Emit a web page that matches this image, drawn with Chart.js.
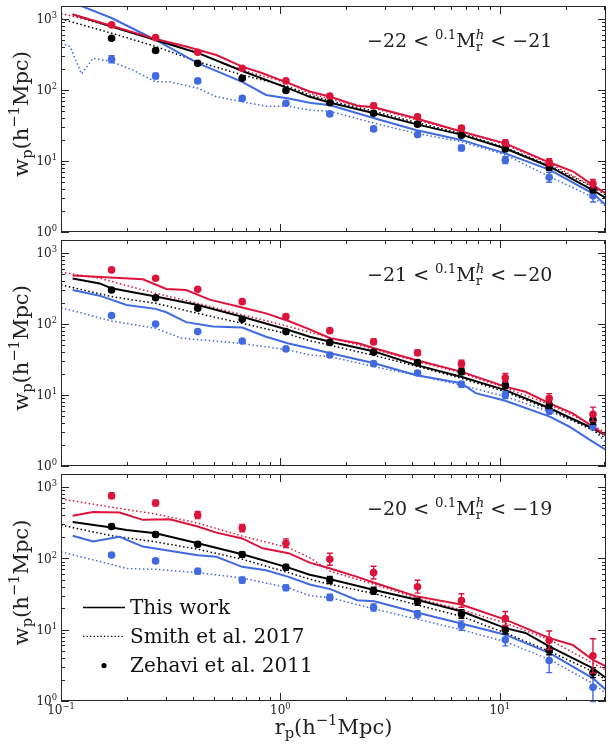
<!DOCTYPE html>
<html><head>
<meta charset="UTF-8">
<title>Projected correlation function w_p(r_p) by luminosity and colour</title>
<style>
  body { margin: 0; background: #fff; }
  #wrap { position: relative; width: 610px; height: 745px; }
  #wrap canvas { position: absolute; left: 0; top: 0; }
</style>
<script src="https://cdn.jsdelivr.net/npm/chart.js"></script>
</head>
<body>
<div id="wrap">
  <canvas id="p1" width="610" height="745"></canvas>
  <canvas id="p2" width="610" height="745"></canvas>
  <canvas id="p3" width="610" height="745"></canvas>
</div>
<script>
// r_p bins of the Zehavi et al. 2011 measurements (h^-1 Mpc)
const rBins = [0.17, 0.27, 0.42, 0.67, 1.06, 1.68, 2.66, 4.22, 6.69, 10.6, 16.8, 26.6];

// ---- -22 < M < -21 ----
const z22Red   = [823, 545, 340, 202, 134, 82, 60, 42, 29, 18, 9.6, 4.8];
const z22All   = [535, 360, 238, 146, 98, 66, 47, 33, 23, 14.8, 8.1, 4.0];
const z22Blue  = [270, 157, 134, 76, 65, 46, 28.3, 23.5, 15.2, 10.3, 5.9, 3.25];
// errors in dex
const e22Red   = [0.02, 0.02, 0.02, 0.02, 0.03, 0.03, 0.03, 0.03, 0.03, 0.04, 0.05, 0.06];
const e22All   = [0.02, 0.02, 0.02, 0.02, 0.02, 0.02, 0.03, 0.03, 0.03, 0.03, 0.04, 0.05];
const e22Blue  = [0.05, 0.04, 0.03, 0.03, 0.03, 0.03, 0.03, 0.03, 0.04, 0.05, 0.07, 0.09];
// this work (solid) and Smith et al. 2017 (dotted): [r_p, w_p]
const tw22Red  = [[0.113,1160],[0.17,800],[0.27,520],[0.372,410],[0.511,310],[0.67,213],[0.83,172],[1.09,125],[1.36,95],[1.69,80],[2.24,60],[2.68,57],[4.14,40],[6.67,26],[10.6,17.7],[16.9,9.5],[21.6,7.1],[26.5,4.6],[30.5,3.5]];
const tw22All  = [[0.113,1160],[0.17,780],[0.27,505],[0.42,332],[0.67,185],[1.09,105],[1.36,80],[1.69,66],[2.68,47],[4.14,33],[6.67,23.5],[10.6,15],[16.9,8.3],[26.5,3.9],[30.5,3.0]];
const tw22Blue = [[0.113,1700],[0.17,1030],[0.27,505],[0.42,238],[0.67,130],[0.86,85],[1.09,76],[1.36,66],[1.69,61],[2.68,40],[4.14,27.3],[6.67,19.8],[10.6,12.8],[16.9,7.5],[26.5,3.5],[30.5,2.4]];
const sm22Red  = [[0.1,1200],[0.17,780],[0.27,520],[0.42,330],[0.67,190],[1.09,124],[1.36,90],[1.69,74],[2.68,55],[4.14,38],[6.67,26],[10.6,17],[16.9,9.2],[26.5,4.4],[30.5,3.5]];
const sm22All  = [[0.1,1000],[0.17,630],[0.27,410],[0.42,250],[0.67,163],[1.09,111],[1.36,85],[1.69,70],[2.68,50],[4.14,35],[6.67,24.5],[10.6,15.5],[16.9,8.6],[26.5,4.35],[30.5,3.3]];
const sm22Blue = [[0.1,455],[0.11,410],[0.124,168],[0.14,280],[0.17,250],[0.213,190],[0.27,130],[0.313,130],[0.42,106],[0.511,80],[0.67,68],[0.86,59],[1.09,59],[1.36,52],[1.69,50],[2.68,34],[4.14,24.5],[6.67,18.7],[10.6,12.2],[16.9,6.0],[26.5,3.1],[30.5,2.3]];

// ---- -21 < M < -20 ----
const z21Red   = [577, 440, 308, 206, 127, 80.5, 56, 39.4, 27.6, 17.5, 9.0, 5.35];
const z21All   = [301, 234, 166, 116, 78, 55, 40, 28.5, 21.3, 13.8, 7.2, 4.45];
const z21Blue  = [131, 100, 78, 57.6, 44.5, 36.6, 27.6, 20.4, 14.1, 10, 6.0, 3.7];
const e21Red   = [0.02, 0.02, 0.02, 0.03, 0.03, 0.03, 0.04, 0.04, 0.05, 0.06, 0.065, 0.1];
const e21All   = [0.02, 0.02, 0.02, 0.02, 0.02, 0.03, 0.03, 0.03, 0.04, 0.05, 0.05, 0.06];
const e21Blue  = [0.02, 0.02, 0.02, 0.02, 0.02, 0.03, 0.03, 0.03, 0.04, 0.05, 0.05, 0.06];
const tw21Red  = [[0.113,480],[0.236,425],[0.302,310],[0.372,300],[0.476,220],[0.67,170],[0.86,141],[1.09,110],[1.36,84],[1.69,63],[2.29,53],[2.68,45.5],[4.14,31],[6.67,21.3],[10.6,13.1],[13.1,11.1],[16.9,7.6],[21.5,5.5],[26.5,3.6],[30.5,2.7]];
const tw21All  = [[0.113,437],[0.15,372],[0.17,317],[0.27,243],[0.42,185],[0.67,126],[1.09,82],[1.36,66],[1.69,56],[2.68,41],[4.14,26.5],[6.67,18.1],[10.6,11.7],[16.9,6.5],[26.5,3.4],[30.5,2.7]];
const tw21Blue = [[0.113,300],[0.15,250],[0.199,185],[0.27,163],[0.302,146],[0.372,106],[0.493,92],[0.67,89],[0.86,66],[1.09,53],[1.36,45.5],[1.69,38.6],[2.68,28],[4.14,19.1],[6.67,14.6],[7.77,10.6],[10.6,8.3],[16.9,4.95],[20.7,3.6],[26.5,2.2],[30.5,1.68]];
const sm21Red  = [[0.1,535],[0.15,440],[0.27,270],[0.42,195],[0.67,135],[1.09,92],[1.69,64],[2.68,44],[4.14,30],[6.67,20.5],[10.6,12.6],[16.9,7.3],[26.5,3.8],[30.5,2.9]];
const sm21All  = [[0.1,355],[0.17,243],[0.199,225],[0.27,195],[0.42,141],[0.67,102],[1.09,72],[1.36,58],[1.69,50],[2.68,36],[4.14,25.5],[6.67,17.2],[10.6,11.1],[16.9,6.2],[26.5,3.2],[30.5,2.45]];
const sm21Blue = [[0.1,170],[0.17,110],[0.27,87],[0.354,63],[0.67,53],[1.09,43],[1.36,36.6],[1.69,34.6],[2.68,25],[4.14,19],[6.67,13.8],[10.6,9.5],[16.9,5.8],[26.5,3.4],[30.5,2.1]];

// ---- -20 < M < -19 ----
const z20Red   = [755, 595, 404, 265, 163, 97, 63, 40, 25.6, 14.3, 7.1, 4.3];
const z20All   = [279, 216, 157, 113, 75, 49.5, 35, 24.6, 16.6, 10, 5.1, 2.5];
const z20Blue  = [111, 92, 66, 49.5, 38.7, 28.3, 20.4, 16.4, 11.4, 7.2, 3.7, 1.56];
const e20Red   = [0.04, 0.04, 0.05, 0.05, 0.06, 0.085, 0.09, 0.09, 0.095, 0.1, 0.13, 0.24];
const e20All   = [0.03, 0.03, 0.03, 0.04, 0.04, 0.05, 0.05, 0.05, 0.06, 0.06, 0.06, 0.07];
const e20Blue  = [0.03, 0.03, 0.04, 0.04, 0.04, 0.045, 0.05, 0.05, 0.065, 0.085, 0.17, 0.2];
const tw20Red  = [[0.113,394],[0.14,446],[0.185,438],[0.236,346],[0.313,352],[0.42,279],[0.511,229],[0.67,190],[0.83,138],[1.09,118],[1.36,87],[1.69,72],[2.24,55],[2.68,45.4],[4.14,29.5],[6.67,22.5],[10.6,13.8],[16.9,7.6],[21.5,6.1],[26.5,3.8],[30.5,3.05]];
const tw20All  = [[0.113,324],[0.17,270],[0.199,250],[0.27,225],[0.42,163],[0.67,114],[1.09,74],[1.36,59],[1.69,51],[2.68,36],[4.14,26.4],[6.67,18.1],[10.6,10.5],[13.1,9.0],[16.9,5.8],[26.5,2.9],[30.5,2.1]];
const tw20Blue = [[0.113,207],[0.14,172],[0.185,200],[0.236,146],[0.42,110],[0.511,105],[0.67,76],[0.86,68],[1.09,55],[1.36,43],[1.69,37],[2.24,25.8],[2.68,25],[4.14,17.5],[6.67,12.2],[10.6,8.5],[16.9,4.7],[26.5,2.1],[30.5,1.43]];
const sm20Red  = [[0.1,680],[0.14,575],[0.17,520],[0.27,417],[0.42,312],[0.67,205],[1.09,141],[1.36,102],[1.69,66],[2.68,43],[4.14,28],[6.67,19],[10.6,12.4],[16.9,7.2],[26.5,3.4],[30.5,2.7]];
const sm20All  = [[0.1,292],[0.17,207],[0.27,170],[0.42,134],[0.67,97],[1.09,63],[1.36,51],[1.69,43],[2.68,32],[4.14,22.5],[6.67,15.4],[10.6,9.0],[16.9,4.95],[26.5,2.6],[30.5,1.98]];
const sm20Blue = [[0.1,123],[0.17,82],[0.199,72],[0.27,70],[0.42,63],[0.67,53],[1.09,38.6],[1.36,30],[1.69,28],[2.68,19.5],[4.14,14.2],[6.67,10],[10.6,6.8],[16.9,3.8],[26.5,1.77],[30.5,1.28]];

const RED = '#dc143c', BLUE = '#4169e1', BLACK = '#000000';
const SERIF = '"DejaVu Serif", serif';
const INK = '#262626';

// text with super/subscripts; parts: {t, sup, sub, it, stack}
function drawRich(ctx, parts, size, x, y, align) {
  const items = [];
  let w = 0, held = 0;
  for (const p of parts) {
    const s = (p.sup || p.sub) ? size * 0.7 : size;
    const font = (p.it ? 'italic ' : '') + s + 'px ' + SERIF;
    ctx.font = font;
    const pw = ctx.measureText(p.t).width;
    const dy = p.sup ? -0.42 * size : p.sub ? 0.2 * size : 0;
    items.push({ t: p.t, font, x: w, dy });
    if (p.stack) { held = pw; } else { w += Math.max(pw, held); held = 0; }
  }
  const x0 = align === 'center' ? x - w / 2 : align === 'right' ? x - w : x;
  ctx.textAlign = 'left';
  ctx.textBaseline = 'alphabetic';
  for (const it of items) {
    ctx.font = it.font;
    ctx.fillText(it.t, x0 + it.x, y + it.dy);
  }
}

function powLabel(e) {
  return [{ t: '10' }, { t: e < 0 ? '\u2212' + (-e) : String(e), sup: true }];
}

// spines, inward ticks, labels and panel annotation
function framePlugin(cfg) {
  return {
    id: 'frame',
    beforeDatasetDraw(chart, args) {
      const ds = chart.data.datasets[args.index];
      if (!ds.errDex) return;
      const { ctx } = chart;
      const ys = chart.scales.y;
      ctx.save();
      ctx.strokeStyle = ds.pointBackgroundColor;
      ctx.lineWidth = 1.4;
      args.meta.data.forEach((pt, i) => {
        const v = ds.data[i].y, f = Math.pow(10, ds.errDex[i]);
        const yTop = ys.getPixelForValue(v * f), yBot = ys.getPixelForValue(v / f);
        ctx.beginPath();
        ctx.moveTo(pt.x, yTop); ctx.lineTo(pt.x, yBot);
        ctx.moveTo(pt.x - 3, yTop); ctx.lineTo(pt.x + 3, yTop);
        ctx.moveTo(pt.x - 3, yBot); ctx.lineTo(pt.x + 3, yBot);
        ctx.stroke();
      });
      ctx.restore();
    },
    afterDraw(chart) {
      const { ctx, chartArea: a, scales: { x, y } } = chart;
      ctx.save();
      ctx.strokeStyle = INK;
      ctx.fillStyle = INK;
      ctx.lineWidth = 1;
      ctx.strokeRect(a.left + 0.5, a.top + 0.5, a.right - a.left - 1, a.bottom - a.top - 1);

      ctx.beginPath();
      for (let e = -1; e <= 1; e++) {
        for (let m = 1; m <= 9; m++) {
          const v = m * Math.pow(10, e);
          if (v < x.min || v > x.max) continue;
          const px = Math.round(x.getPixelForValue(v)) + 0.5;
          const len = m === 1 ? 8 : 4;
          ctx.moveTo(px, a.bottom); ctx.lineTo(px, a.bottom - len);
          ctx.moveTo(px, a.top); ctx.lineTo(px, a.top + len);
        }
      }
      for (let e = 0; e <= 3; e++) {
        for (let m = 1; m <= 9; m++) {
          const v = m * Math.pow(10, e);
          if (v < y.min || v > y.max) continue;
          const py = Math.round(y.getPixelForValue(v)) + 0.5;
          const len = m === 1 ? 8 : 4;
          ctx.moveTo(a.left, py); ctx.lineTo(a.left + len, py);
          ctx.moveTo(a.right, py); ctx.lineTo(a.right - len, py);
        }
      }
      ctx.stroke();

      ctx.fillStyle = '#222';
      for (let e = 0; e <= 3; e++) {
        drawRich(ctx, powLabel(e), 12, a.left - 4, y.getPixelForValue(Math.pow(10, e)) + 4.3, 'right');
      }
      if (cfg.xLabels) {
        for (let e = -1; e <= 1; e++) {
          drawRich(ctx, powLabel(e), 12, x.getPixelForValue(Math.pow(10, e)), a.bottom + 13, 'center');
        }
        drawRich(ctx, [{ t: 'r' }, { t: 'p', sub: true }, { t: '(h' }, { t: '\u22121', sup: true }, { t: 'Mpc)' }],
          21, (a.left + a.right) / 2, 734, 'center');
      }

      // y axis title
      ctx.save();
      ctx.translate(28, (a.top + a.bottom) / 2 - 5);
      ctx.rotate(-Math.PI / 2);
      drawRich(ctx, [{ t: 'w' }, { t: 'p', sub: true }, { t: '(h' }, { t: '\u22121', sup: true }, { t: 'Mpc)' }], 21, 0, 0, 'center');
      ctx.restore();

      // magnitude bin
      drawRich(ctx, [
        { t: '\u2212' + cfg.lo + ' < ' }, { t: '0.1', sup: true }, { t: 'M' },
        { t: 'h', sup: true, it: true, stack: true }, { t: 'r', sub: true },
        { t: ' < \u2212' + cfg.hi }
      ], 19, 367, a.top + 41, 'left');

      if (cfg.legend) {
        const rows = [['solid', 'This work'], ['dotted', 'Smith et al. 2017'], ['dot', 'Zehavi et al. 2011']];
        rows.forEach((row, i) => {
          const yy = 614 + i * 28.8;
          ctx.strokeStyle = BLACK;
          ctx.fillStyle = BLACK;
          if (row[0] === 'dot') {
            ctx.beginPath(); ctx.arc(104, yy - 6, 2.6, 0, Math.PI * 2); ctx.fill();
          } else {
            ctx.lineWidth = row[0] === 'solid' ? 1.6 : 1.3;
            ctx.setLineDash(row[0] === 'solid' ? [] : [1.3, 2.2]);
            ctx.beginPath(); ctx.moveTo(83, yy - 6.5); ctx.lineTo(125, yy - 6.5); ctx.stroke();
            ctx.setLineDash([]);
          }
          ctx.fillStyle = '#111';
          ctx.font = '20px ' + SERIF;
          ctx.textAlign = 'left';
          ctx.fillText(row[1], 130, yy);
        });
      }
      ctx.restore();
    }
  };
}

function dots(vals, errs, color) {
  return {
    data: rBins.map((r, i) => ({ x: r, y: vals[i] })),
    showLine: false, pointRadius: 3.8, pointBorderWidth: 0,
    pointBackgroundColor: color, errDex: errs, order: 0
  };
}

function model(pts, color, dotted) {
  return {
    data: pts.map(p => ({ x: p[0], y: p[1] })),
    showLine: true, fill: false, pointRadius: 0, tension: 0,
    borderColor: color, borderWidth: dotted ? 1.5 : 2,
    borderDash: dotted ? [1.5, 2.5] : [], order: dotted ? 2 : 1
  };
}

function makePanel(id, top, bottom, sets, cfg) {
  return new Chart(document.getElementById(id), {
    type: 'scatter',
    data: { datasets: sets },
    options: {
      responsive: false, animation: false, events: [],
      layout: { padding: { left: 61, right: 3, top: top, bottom: 745 - bottom } },
      plugins: { legend: { display: false }, tooltip: { enabled: false } },
      scales: {
        x: { type: 'logarithmic', min: 0.1, max: 30.5, display: false },
        y: { type: 'logarithmic', min: 1, max: 1520, display: false }
      }
    },
    plugins: [framePlugin(cfg)]
  });
}

makePanel('p1', 6, 232, [
  dots(z22Red, e22Red, RED), dots(z22All, e22All, BLACK), dots(z22Blue, e22Blue, BLUE),
  model(tw22Red, RED, false), model(tw22All, BLACK, false), model(tw22Blue, BLUE, false),
  model(sm22Red, RED, true), model(sm22All, BLACK, true), model(sm22Blue, BLUE, true)
], { lo: 22, hi: 21 });

makePanel('p2', 240, 466, [
  dots(z21Red, e21Red, RED), dots(z21All, e21All, BLACK), dots(z21Blue, e21Blue, BLUE),
  model(tw21Red, RED, false), model(tw21All, BLACK, false), model(tw21Blue, BLUE, false),
  model(sm21Red, RED, true), model(sm21All, BLACK, true), model(sm21Blue, BLUE, true)
], { lo: 21, hi: 20 });

makePanel('p3', 474, 701, [
  dots(z20Red, e20Red, RED), dots(z20All, e20All, BLACK), dots(z20Blue, e20Blue, BLUE),
  model(tw20Red, RED, false), model(tw20All, BLACK, false), model(tw20Blue, BLUE, false),
  model(sm20Red, RED, true), model(sm20All, BLACK, true), model(sm20Blue, BLUE, true)
], { lo: 20, hi: 19, xLabels: true, legend: true });
</script>
</body></html>
